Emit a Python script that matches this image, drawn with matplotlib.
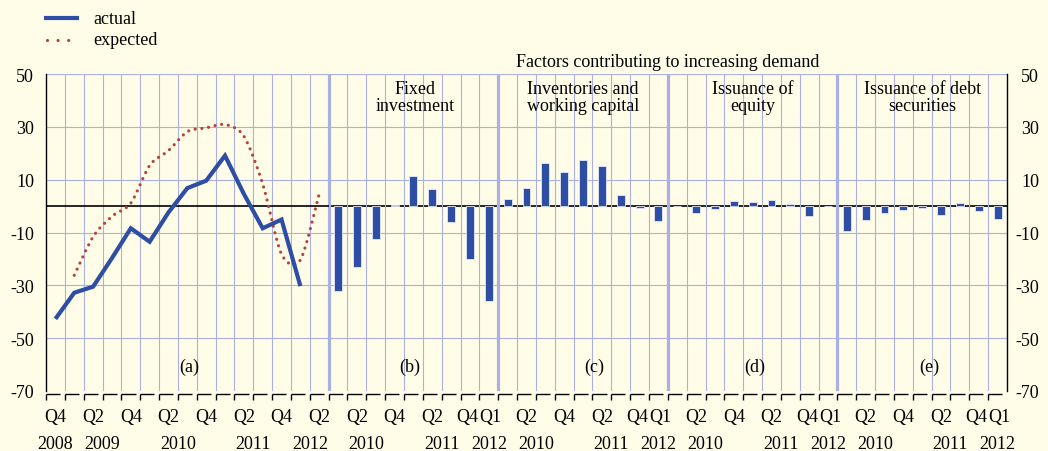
import matplotlib
matplotlib.use('Agg')
import matplotlib.pyplot as plt
from matplotlib.path import Path
from matplotlib.patches import PathPatch
from matplotlib.lines import Line2D
from matplotlib.transforms import blended_transform_factory

plt.rcParams['font.family'] = ['Liberation Serif', 'DejaVu Serif']
plt.rcParams['font.size'] = 13
plt.rcParams['axes.unicode_minus'] = False

# ---------------- data ----------------
line_quarters = ['2008Q4', '2009Q1', '2009Q2', '2009Q3', '2009Q4',
                 '2010Q1', '2010Q2', '2010Q3', '2010Q4',
                 '2011Q1', '2011Q2', '2011Q3', '2011Q4',
                 '2012Q1', '2012Q2']
actual_quarters = line_quarters[:14]
actual = [-42.7, -32.8, -30.5, -19.7, -8.4, -13.5, -2.4, 6.8, 9.6,
          19.1, 4.6, -8.4, -5.1, -30.3]
expected_quarters = line_quarters[1:]
expected = [-26.2, -11.6, -3.9, 1.1, 15.4, 21.0, 28.2, 29.6, 30.9,
            26.5, 8.4, -18.2, -20.4, 4.6]

bar_quarters = ['2010Q1', '2010Q2', '2010Q3', '2010Q4',
                '2011Q1', '2011Q2', '2011Q3', '2011Q4', '2012Q1']
fixed_investment = [-32.2, -23.0, -12.5, 0.4, 11.3, 6.5, -6.1, -19.9, -35.9]
inventories = [2.7, 6.8, 16.3, 12.8, 17.5, 15.1, 4.2, -0.9, -5.7]
equity = [0.0, -2.7, -1.0, 1.8, 1.4, 2.3, 0.9, -3.8, 0.2]
debt = [-9.5, -5.2, -2.7, -1.5, -0.7, -3.2, 1.1, -1.8, -4.9]

bar_series = [fixed_investment, inventories, equity, debt]
panel_titles = ['Fixed\ninvestment', 'Inventories and\nworking capital',
                'Issuance of\nequity', 'Issuance of debt\nsecurities']
panel_letters = ['(a)', '(b)', '(c)', '(d)', '(e)']
super_title = 'Factors contributing to increasing demand'
legend_labels = ['actual', 'expected']
y_ticks = [50, 30, 10, -10, -30, -50, -70]

# ---------------- style ----------------
BG = '#FFFDE8'
GRID = '#ABB0E3'
BLUE = '#2E4EA6'
RED = '#B5433A'
FS = 13

W, H = 1048, 452
fig = plt.figure(figsize=(W / 100, H / 100), dpi=100, facecolor=BG)
ax_left, ax_right, ax_top, ax_bot = 46, 1007, 75, 392
ax = fig.add_axes([ax_left / W, 1 - ax_bot / H, (ax_right - ax_left) / W,
                   (ax_bot - ax_top) / H])
ax.set_facecolor(BG)

n_a = len(line_quarters)
n_b = len(bar_quarters)
n_total = n_a + n_b * len(bar_series)
ax.set_xlim(0, n_total)
ax.set_ylim(-70, 50)

panel_starts = [0] + [n_a + k * n_b for k in range(len(bar_series))]
separators = panel_starts[1:]

# grid
for yv in [50, 30, 10, -10, -30, -50]:
    ax.axhline(yv, color=GRID, lw=0.8, zorder=1)
ax.plot([0, n_a], [0, 0], color='black', lw=1.2, zorder=2.5, solid_capstyle='butt')
ax.plot([n_a, n_total], [0, 0], color='black', lw=1.2, zorder=1.5, solid_capstyle='butt')
for b in range(1, n_total):
    if b in separators:
        ax.vlines(b, -70, 50, color=GRID, lw=2.3, zorder=2)
    else:
        ax.vlines(b, -70, 50, color=GRID, lw=0.8, zorder=2 if b > n_a else 1.2)

# bars
for k, series in enumerate(bar_series):
    xs = [panel_starts[k + 1] + bar_quarters.index(q) + 0.5 for q in bar_quarters]
    ax.bar(xs, series, width=0.42, color=BLUE, edgecolor='#E4E7FA',
           linewidth=0.6, zorder=3)

# actual line
xa = [line_quarters.index(q) + 0.5 for q in actual_quarters]
ax.plot(xa, actual, color=BLUE, lw=3.0, zorder=5, solid_joinstyle='miter',
        solid_capstyle='butt')

# expected: smooth dotted curve through the data points (Catmull-Rom -> Bezier)
xe = [line_quarters.index(q) + 0.5 for q in expected_quarters]
pts = list(zip(xe, expected))
verts = [pts[0]]
codes = [Path.MOVETO]
tension = 0.85
for i in range(len(pts) - 1):
    p0 = pts[i - 1] if i > 0 else pts[i]
    p1 = pts[i]
    p2 = pts[i + 1]
    p3 = pts[i + 2] if i + 2 < len(pts) else pts[i + 1]
    c1 = (p1[0] + (p2[0] - p0[0]) / 6 * tension, p1[1] + (p2[1] - p0[1]) / 6 * tension)
    c2 = (p2[0] - (p3[0] - p1[0]) / 6 * tension, p2[1] - (p3[1] - p1[1]) / 6 * tension)
    verts += [c1, c2, p2]
    codes += [Path.CURVE4] * 3
patch = PathPatch(Path(verts, codes), fill=False, edgecolor=RED, lw=2.3,
                  linestyle=(0, (0.01, 2.1)), capstyle='round', zorder=4)
ax.add_patch(patch)

# spines
for s in ['top', 'bottom']:
    ax.spines[s].set_visible(False)
for s in ['left', 'right']:
    ax.spines[s].set_color('black')
    ax.spines[s].set_linewidth(1.0)
    ax.spines[s].set_zorder(6)

# y tick labels
ax.set_yticks(y_ticks)
ax.tick_params(axis='y', length=0, pad=8.6, labelsize=FS)
ax.set_xticks([])
ax2 = ax.twinx()
ax2.set_ylim(-70, 50)
ax2.set_yticks(y_ticks)
ax2.tick_params(axis='y', length=0, pad=23, labelsize=FS)
for t in ax2.get_yticklabels():
    t.set_horizontalalignment('right')
for s in ax2.spines.values():
    s.set_visible(False)

# bottom bracket-like ticks
for b in range(0, n_total):
    ax.plot([b, b], [-71.1, -73.4], color='black', lw=1.0, clip_on=False,
            solid_capstyle='butt')
    ax.plot([b, b + 0.75], [-71.1, -71.1], color='black', lw=1.0, clip_on=False,
            solid_capstyle='butt')

# x labels
tb = blended_transform_factory(ax.transData, fig.transFigure)
q_y = 1 - 418 / H
yr_y = 1 - 445 / H


def quarter_labels(quarters, start, last_q1):
    for i, q in enumerate(quarters):
        qq = q[4:]
        if qq in ('Q2', 'Q4') or (last_q1 and i == len(quarters) - 1):
            x = start + i + 0.5
            if last_q1 and qq == 'Q4' and i == len(quarters) - 2:
                x -= 0.12
            if last_q1 and i == len(quarters) - 1:
                x += 0.1
            ax.text(x, q_y, qq, transform=tb, ha='center', va='center', fontsize=FS)
    years = []
    for q in quarters:
        if q[:4] not in years:
            years.append(q[:4])
    for yr in years:
        idx = [i for i, q in enumerate(quarters) if q[:4] == yr]
        x = start + (idx[0] + idx[-1] + 1) / 2
        ax.text(x, yr_y, yr, transform=tb, ha='center', va='center', fontsize=FS)


quarter_labels(line_quarters, 0, False)
for k in range(len(bar_series)):
    quarter_labels(bar_quarters, panel_starts[k + 1], True)

# panel letters and titles
letter_pos = [7.6, 19.3, 29.1, 37.6, 46.9]
for lbl, xp in zip(panel_letters, letter_pos):
    ax.text(xp, -60.5, lbl, ha='center', va='center', fontsize=FS, zorder=7)
for k, t in enumerate(panel_titles):
    xc = panel_starts[k + 1] + n_b / 2 + (0.1 if k == 0 else 0)
    ax.text(xc, 41.3, t, ha='center', va='center', fontsize=FS,
            linespacing=1.05, zorder=7)
ax.text(33, 54.9, super_title, ha='center', va='center', fontsize=FS, clip_on=False)

# legend
fig.add_artist(Line2D([44 / W, 79 / W], [1 - 19.3 / H] * 2, color=BLUE, lw=3.0,
                      solid_capstyle='butt'))
fig.add_artist(Line2D([46.5 / W, 78 / W], [1 - 40.7 / H] * 2, color=RED, lw=2.3,
                      linestyle=(0, (0.01, 3.3)), dash_capstyle='round'))
fig.text(93 / W, 1 - 19.3 / H, legend_labels[0], ha='left', va='center', fontsize=FS)
fig.text(93 / W, 1 - 40.7 / H, legend_labels[1], ha='left', va='center', fontsize=FS)

fig.savefig('out.png', dpi=100, facecolor=BG)
